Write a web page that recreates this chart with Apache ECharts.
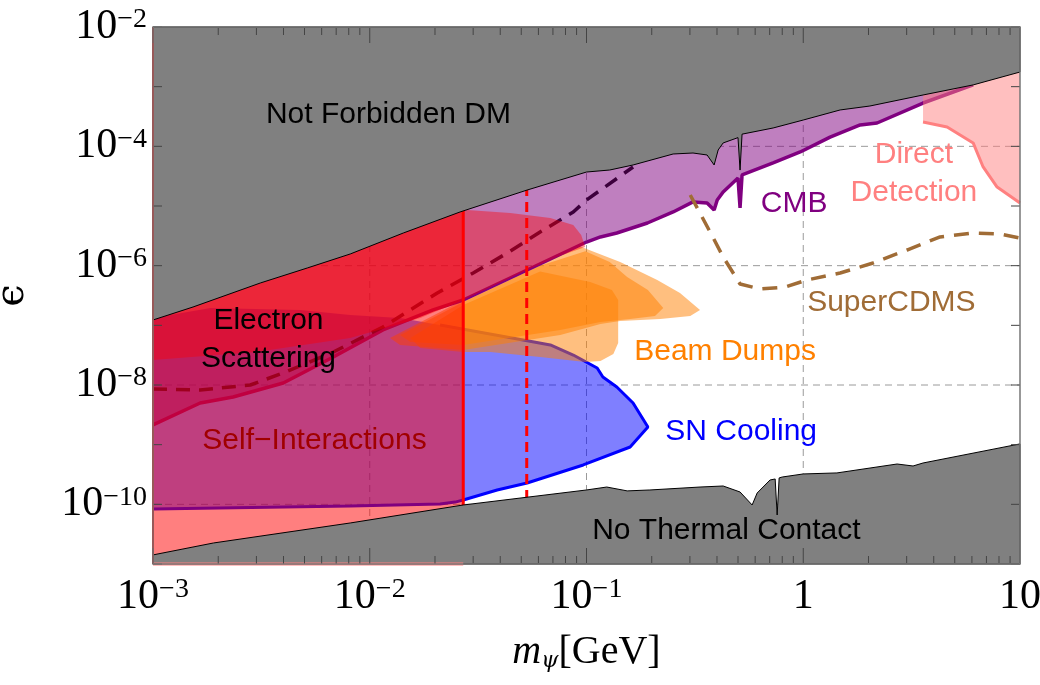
<!DOCTYPE html>
<html>
<head>
<meta charset="utf-8">
<script src="https://cdn.jsdelivr.net/npm/echarts@6/dist/echarts.min.js"></script>
<style>
  html, body { margin: 0; padding: 0; background: #fff; }
  #chart { width: 1040px; height: 685px; }
</style>
</head>
<body>
<div id="chart"></div>
<script>
// all points are [m_psi in GeV, epsilon]
const notForbiddenEdge = [[1e-3,1.23e-7],[1.53e-3,2.03e-7],[3.13e-3,5.13e-7],[5.15e-3,9.14e-7],[8.13e-3,1.57e-6],[1.43e-2,3.53e-6],[2.61e-2,7.94e-6],[5.32e-2,1.85e-5],[0.100,3.71e-5],[0.128,4.01e-5],[0.164,4.87e-5],[0.251,7.44e-5],[0.310,7.73e-5],[0.360,7.16e-5],[0.388,4.87e-5],[0.405,8.69e-5],[0.427,1.14e-4],[0.500,1.40e-4],[0.511,4.0e-5],[0.522,1.60e-4],[0.726,2.03e-4],[1.0,2.76e-4],[1.48,4.07e-4],[2.03,4.74e-4],[3.57,7.25e-4],[6.08,1.07e-3],[10,1.76e-3]];
const noThermalEdge = [[1e-3,1.42e-11],[1.9e-3,2.25e-11],[8.13e-3,4.87e-11],[2.70e-2,9.75e-11],[0.100,1.74e-10],[0.124,1.95e-10],[0.154,1.68e-10],[0.196,1.74e-10],[0.334,1.95e-10],[0.427,2.03e-10],[0.511,1.61e-10],[0.581,9.75e-11],[0.613,1.55e-10],[0.703,2.56e-10],[0.742,2.66e-10],[0.758,6.63e-11],[0.774,2.77e-10],[0.800,2.87e-10],[1.0,3.23e-10],[1.43,3.36e-10],[2.71,4.74e-10],[3.21,4.39e-10],[3.57,4.93e-10],[10,1.03e-9]];
const cmbLine = [[1e-3,2.14e-9],[1.65e-3,5.0e-9],[2.34e-3,6.30e-9],[3.99e-3,1.08e-8],[6.79e-3,2.95e-8],[1.15e-2,8.36e-8],[1.96e-2,1.81e-7],[2.70e-2,2.66e-7],[5.32e-2,8.47e-7],[0.100,2.49e-6],[0.116,3.03e-6],[0.138,3.53e-6],[0.191,5.19e-6],[0.251,7.94e-6],[0.310,1.17e-5],[0.360,1.12e-5],[0.388,8.57e-6],[0.401,1.26e-5],[0.427,1.72e-5],[0.500,2.94e-5],[0.511,9.26e-6],[0.522,3.31e-5],[0.726,5.26e-5],[0.968,8.04e-5],[1.33,1.43e-4],[1.83,2.28e-4],[2.19,2.46e-4],[3.57,5.32e-4],[6.08,1.07e-3]];
const snCooling = [[1e-3,1.33e-7],[1.84e-3,1.95e-7],[4.78e-3,1.81e-7],[8.13e-3,1.49e-7],[1.38e-2,1.33e-7],[2.11e-2,1.01e-7],[5.10e-2,5.68e-8],[6.81e-2,4.69e-8],[8.69e-2,3.18e-8],[0.112,1.93e-8],[0.119,1.36e-8],[0.138,9.26e-9],[0.164,5.0e-9],[0.192,1.98e-9],[0.159,9.14e-10],[9.66e-2,4.57e-10],[5.32e-2,2.28e-10],[3.87e-2,1.74e-10],[2.70e-2,1.18e-10],[2.48e-2,1.09e-10],[2.11e-2,1.01e-10],[8.13e-3,9.38e-11],[1e-3,8.36e-11]];
const beamDumpB = [[1.24e-2,6.14e-8],[2.70e-2,2.66e-7],[6.11e-2,1.10e-6],[9.35e-2,2.10e-6],[0.143,1.15e-6],[0.212,5.75e-7],[0.270,3.48e-7],[0.334,1.81e-7],[0.301,1.44e-7],[0.219,1.28e-7],[0.143,1.18e-7],[0.116,1.05e-7],[7.57e-2,6.89e-8],[2.70e-2,3.86e-8],[1.38e-2,4.69e-8]];
const beamDumpC = [[1.38e-2,6.89e-8],[2.70e-2,2.45e-7],[6.11e-2,1.00e-6],[9.87e-2,1.75e-6],[0.128,1.15e-6],[0.154,6.46e-7],[0.192,3.91e-7],[0.226,1.95e-7],[0.207,1.44e-7],[0.159,1.28e-7],[0.116,1.14e-7],[7.57e-2,8.36e-8],[2.70e-2,4.69e-8],[1.54e-2,5.26e-8]];
const beamDumpD = [[1.54e-2,6.14e-8],[2.70e-2,2.2e-7],[6.11e-2,8.0e-7],[0.104,5.33e-7],[0.131,3.91e-7],[0.140,2.66e-7],[0.140,5.06e-8],[0.133,3.31e-8],[0.116,2.53e-8],[9.87e-2,2.43e-8],[6.11e-2,2.95e-8],[3.60e-2,3.57e-8],[2.70e-2,3.57e-8],[1.71e-2,4.17e-8]];
const electronUpper = [[1e-3,1e-2],[2.6e-2,1e-2],[2.82e-2,8.57e-6],[4.45e-2,7.64e-6],[6.81e-2,6.30e-6],[8.69e-2,4.81e-6],[9.45e-2,3.27e-6],[9.87e-2,2.06e-6],[7.57e-2,1.46e-6],[5.32e-2,8.47e-7],[2.70e-2,2.66e-7],[1.71e-2,1.33e-7],[8.13e-3,6.14e-8],[3.0e-3,3.57e-8],[1e-3,2.63e-8]];
const directDetection = [[3.57,2.56e-4],[4.61,2.11e-4],[6.08,1.14e-4],[6.76,4.51e-5],[7.84,2.08e-5],[10,1.12e-5]];
const superCdms = [[0.301,1.53e-5],[0.372,3.66e-6],[0.427,1.40e-6],[0.511,4.93e-7],[0.632,4.06e-7],[0.826,4.39e-7],[1.04,5.75e-7],[1.48,7.53e-7],[2.10,1.11e-6],[3.01,1.83e-6],[4.28,3.03e-6],[6.08,3.53e-6],[8.1,3.40e-6],[10,2.91e-6]];
const darkDashed = [[1e-3,8.58e-9],[1.65e-3,8.26e-9],[2.81e-3,1.0e-8],[3.99e-3,1.59e-8],[6.79e-3,3.57e-8],[1.15e-2,9.38e-8],[2.05e-2,3.48e-7],[3.00e-2,7.53e-7],[4.31e-2,1.63e-6],[6.11e-2,3.66e-6],[8.69e-2,7.94e-6],[0.100,1.26e-5],[0.164,4.51e-5]];
const esMassSolid = 0.027;
const esMassDashed = 0.053;

// axis ranges and ticks
const xMin = 1e-3, xMax = 10, yMin = 1e-11, yMax = 1e-2;
const xDecades = [1e-3, 1e-2, 1e-1, 1];
const minorSteps = [2, 3, 4, 5, 6, 7, 8, 9];
const yDecades = [1e-11, 1e-10, 1e-9, 1e-8, 1e-7, 1e-6, 1e-5, 1e-4, 1e-3, 1e-2];
const gridX = [1e-2, 1e-1, 1];
const gridY = [1e-10, 1e-8, 1e-6, 1e-4];

// region labels: text, m, epsilon
const regionLabels = [
  ['Not Forbidden DM', 1.22e-2, 3.35e-4],
  ['Direct\nDetection', 3.24, 3.43e-5],
  ['CMB', 0.908, 1.08e-5],
  ['SuperCDMS', 2.55, 2.37e-7],
  ['Beam Dumps', 0.436, 3.57e-8],
  ['SN Cooling', 0.517, 1.63e-9],
  ['Electron\nScattering', 3.41e-3, 5.68e-8],
  ['Self\u2212Interactions', 5.56e-3, 1.15e-9],
  ['No Thermal Contact', 0.442, 3.58e-11]
];
const labelColors = ['#000', '#ff8080', '#800080', '#a06c36', '#ff8000', '#0000ff', '#000', '#a00000', '#000'];

const chart = echarts.init(document.getElementById('chart'));

function area (name, pts, fill, z, stroke) {
  return {
    name: name, type: 'custom', z: z, silent: true,
    data: [pts[0]],
    renderItem: function (params, api) {
      return {
        type: 'polygon',
        shape: { points: pts.map(p => api.coord(p)) },
        style: { fill: fill, stroke: stroke || 'none', lineWidth: 1 }
      };
    }
  };
}

function curve (name, pts, color, width, z, dash, clip) {
  return {
    name: name, type: 'line', data: pts, z: z, silent: true,
    symbol: 'none', clip: clip !== false,
    lineStyle: { color: color, width: width, type: dash || 'solid' }
  };
}

const supLabel = function (v) {
  const e = Math.round(Math.log10(v));
  if (e === 0) return '{b|1}';
  if (e === 1) return '{b|10}';
  return '{b|10}{s|\u2212' + (-e) + '}';
};
const labelRich = {
  b: { fontFamily: 'Liberation Serif', fontSize: 42, color: '#000' },
  s: { fontFamily: 'Liberation Serif', fontSize: 28, lineHeight: 20, verticalAlign: 'top', color: '#000' }
};

const options = {
  animation: false,
  backgroundColor: '#fff',
  grid: { left: 153, right: 20, top: 27, bottom: 121, containLabel: false, outerBoundsMode: 'none' },
  xAxis: {
    type: 'log', logBase: 10, min: xMin, max: xMax, splitNumber: 4,
    axisLine: { show: false }, axisTick: { show: false }, splitLine: { show: false },
    axisLabel: { margin: 12, showMinLabel: true, showMaxLabel: true, formatter: supLabel, rich: labelRich },
    name: '{m|m}{p|\u03c8}{n|[GeV]}',
    nameLocation: 'middle', nameGap: 68,
    nameTextStyle: {
      rich: {
        m: { fontFamily: 'Liberation Serif', fontStyle: 'italic', fontSize: 40, color: '#000' },
        p: { fontFamily: 'DejaVu Serif', fontStyle: 'italic', fontSize: 22, verticalAlign: 'bottom', lineHeight: 30, color: '#000' },
        n: { fontFamily: 'Liberation Serif', fontSize: 40, color: '#000' }
      }
    }
  },
  yAxis: {
    type: 'log', logBase: 10, min: yMin, max: yMax, splitNumber: 9,
    axisLine: { show: false }, axisTick: { show: false }, splitLine: { show: false },
    axisLabel: {
      margin: 6, showMinLabel: true, showMaxLabel: true, rich: labelRich,
      formatter: function (v) {
        const e = Math.round(Math.log10(v));
        return e % 2 === 0 ? supLabel(v) : '';
      }
    },
    name: '\u03f5', nameLocation: 'middle', nameRotate: 90, nameGap: 120,
    nameTextStyle: { fontFamily: 'DejaVu Serif', fontSize: 40, color: '#000' }
  },
  series: [
    {
      name: 'grid', type: 'custom', z: 1, silent: true, data: [[xMin, yMin]],
      renderItem: function (params, api) {
        const kids = [];
        const dash = { stroke: '#9a9a9a', lineWidth: 1, lineDash: [7, 5] };
        gridX.forEach(m => {
          const a = api.coord([m, yMin]), b = api.coord([m, yMax]);
          kids.push({ type: 'line', shape: { x1: a[0], y1: a[1], x2: b[0], y2: b[1] }, style: dash });
        });
        gridY.forEach(e => {
          const a = api.coord([xMin, e]), b = api.coord([xMax, e]);
          kids.push({ type: 'line', shape: { x1: a[0], y1: a[1], x2: b[0], y2: b[1] }, style: dash });
        });
        return { type: 'group', children: kids };
      }
    },
    area('SN Cooling', snCooling, 'rgba(0,0,255,0.5)', 2),
    // only the part of the SN outline that shows through
    curve('SN Cooling line', snCooling.slice(5), '#0000ff', 3, 3),
    area('CMB', cmbLine.concat([[10, yMax], [xMin, yMax]]), 'rgba(128,0,128,0.5)', 4),
    area('Beam Dumps B', beamDumpB, 'rgba(255,128,0,0.5)', 5),
    area('Beam Dumps C', beamDumpC, 'rgba(255,128,0,0.5)', 5),
    area('Beam Dumps D', beamDumpD, 'rgba(255,128,0,0.5)', 5),
    curve('CMB line', cmbLine, '#800080', 3.5, 6),
    curve('dashed', darkDashed, '#3c003c', 3.5, 7, [14, 9]),
    area('Direct Detection', [[3.57, yMax]].concat(directDetection, [[10, yMax]]), 'rgba(255,128,128,0.5)', 8),
    curve('Direct Detection line', directDetection, '#ff8080', 3, 9),
    curve('SuperCDMS', superCdms, '#a06c36', 3.5, 9, [15, 10]),
    area('Electron Scattering upper', electronUpper, 'rgba(255,0,0,0.4)', 10),
    area('Electron Scattering', [[xMin, yMin], [esMassSolid, yMin], [esMassSolid, yMax], [xMin, yMax]], 'rgba(255,0,0,0.5)', 10),
    curve('ES solid', [[esMassSolid, yMin], [esMassSolid, yMax]], '#ff0000', 3, 11),
    curve('ES dashed', [[esMassDashed, yMin], [esMassDashed, yMax]], '#ff0000', 3, 11, [10, 6]),
    area('Not Forbidden DM', notForbiddenEdge.concat([[xMax, yMax], [xMin, yMax]]), '#808080', 12, '#000'),
    area('No Thermal Contact', noThermalEdge.concat([[xMax, yMin], [xMin, yMin]]), '#808080', 12, '#000'),
    curve('ES edge left', [[xMin, yMin], [xMin, yMax]], '#ff0000', 2, 13, null, false),
    curve('ES edge bottom', [[xMin, yMin], [esMassSolid, yMin]], '#ff8080', 3, 13, null, false),
    {
      name: 'frame', type: 'custom', z: 14, silent: true, data: [[xMin, yMin]],
      renderItem: function (params, api) {
        const kids = [];
        const st = { stroke: '#444', lineWidth: 1 };
        const bl = api.coord([xMin, yMin]), tr = api.coord([xMax, yMax]);
        const tick = (x1, y1, x2, y2) => kids.push({ type: 'line', shape: { x1, y1, x2, y2 }, style: st });
        xDecades.forEach(d => {
          [1].concat(minorSteps).forEach(k => {
            const x = api.coord([d * k, yMin])[0];
            const len = k === 1 ? 16 : 8;
            tick(x, bl[1], x, bl[1] - len);
            tick(x, tr[1], x, tr[1] + len);
          });
        });
        yDecades.forEach(e => {
          const y = api.coord([xMin, e])[1];
          tick(bl[0], y, bl[0] + 9, y);
          tick(tr[0], y, tr[0] - 9, y);
        });
        kids.push({
          type: 'rect',
          shape: { x: bl[0], y: tr[1], width: tr[0] - bl[0], height: bl[1] - tr[1] },
          style: { fill: 'none', stroke: '#777', lineWidth: 1.5 }
        });
        return { type: 'group', children: kids };
      }
    },
    {
      name: 'labels', type: 'custom', z: 15, silent: true,
      data: regionLabels.map(r => [r[1], r[2]]),
      renderItem: function (params, api) {
        const r = regionLabels[params.dataIndex];
        const p = api.coord([r[1], r[2]]);
        return {
          type: 'text', x: p[0], y: p[1],
          style: {
            text: r[0], fill: labelColors[params.dataIndex],
            fontFamily: 'Liberation Sans', fontSize: 30, lineHeight: 38,
            align: 'center', verticalAlign: 'middle'
          }
        };
      }
    }
  ]
};
chart.setOption(options);
</script>
</body>
</html>
